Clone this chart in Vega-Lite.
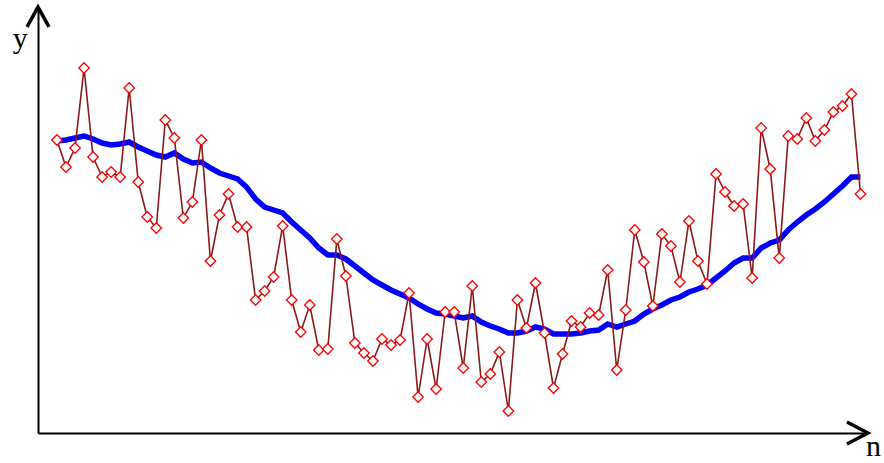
{
  "$schema": "https://vega.github.io/schema/vega-lite/v6.json",
  "width": 827,
  "height": 423,
  "autosize": {"type": "none"},
  "padding": {"left": 38, "top": 10, "right": 19, "bottom": 30},
  "background": "white",
  "config": {
    "view": {"stroke": null},
    "axis": {"title": null, "labels": false, "ticks": false, "grid": false, "domainColor": "black", "domainWidth": 2}
  },
  "datasets": {
    "series": [
      {"n":0,"y":293,"ma":292},{"n":1,"y":266,"ma":293},{"n":2,"y":285,"ma":295},{"n":3,"y":365,"ma":297},
      {"n":4,"y":276,"ma":294},{"n":5,"y":256,"ma":290},{"n":6,"y":261,"ma":288},{"n":7,"y":256,"ma":289},
      {"n":8,"y":345,"ma":291},{"n":9,"y":251,"ma":286},{"n":10,"y":216,"ma":282},{"n":11,"y":205,"ma":278},
      {"n":12,"y":313,"ma":276},{"n":13,"y":295,"ma":280},{"n":14,"y":215,"ma":274},{"n":15,"y":231,"ma":270},
      {"n":16,"y":293,"ma":271},{"n":17,"y":172,"ma":265},{"n":18,"y":218,"ma":260},{"n":19,"y":239,"ma":257},
      {"n":20,"y":206,"ma":254},{"n":21,"y":206,"ma":246},{"n":22,"y":133,"ma":234},{"n":23,"y":142,"ma":226},
      {"n":24,"y":156,"ma":223},{"n":25,"y":207,"ma":220},{"n":26,"y":133,"ma":211},{"n":27,"y":101,"ma":203},
      {"n":28,"y":128,"ma":195},{"n":29,"y":83,"ma":185},{"n":30,"y":84,"ma":178},{"n":31,"y":194,"ma":178},
      {"n":32,"y":157,"ma":174},{"n":33,"y":90,"ma":167},{"n":34,"y":80,"ma":160},{"n":35,"y":72,"ma":153},
      {"n":36,"y":94,"ma":148},{"n":37,"y":88,"ma":143},{"n":38,"y":93,"ma":139},{"n":39,"y":140,"ma":135},
      {"n":40,"y":36,"ma":129},{"n":41,"y":94,"ma":124},{"n":42,"y":44,"ma":120},{"n":43,"y":121,"ma":119},
      {"n":44,"y":121,"ma":117},{"n":45,"y":65,"ma":115},{"n":46,"y":147,"ma":117},{"n":47,"y":51,"ma":111},
      {"n":48,"y":59,"ma":107},{"n":49,"y":81,"ma":104},{"n":50,"y":22,"ma":100},{"n":51,"y":133,"ma":100},
      {"n":52,"y":105,"ma":102},{"n":53,"y":150,"ma":106},{"n":54,"y":100,"ma":104},{"n":55,"y":45,"ma":99},
      {"n":56,"y":79,"ma":99},{"n":57,"y":112,"ma":99},{"n":58,"y":106,"ma":100},{"n":59,"y":120,"ma":102},
      {"n":60,"y":118,"ma":103},{"n":61,"y":163,"ma":109},{"n":62,"y":63,"ma":106},{"n":63,"y":123,"ma":109},
      {"n":64,"y":203,"ma":112},{"n":65,"y":171,"ma":119},{"n":66,"y":127,"ma":124},{"n":67,"y":199,"ma":128},
      {"n":68,"y":187,"ma":133},{"n":69,"y":151,"ma":136},{"n":70,"y":212,"ma":141},{"n":71,"y":172,"ma":144},
      {"n":72,"y":149,"ma":148},{"n":73,"y":259,"ma":155},{"n":74,"y":241,"ma":162},{"n":75,"y":227,"ma":170},
      {"n":76,"y":229,"ma":175},{"n":77,"y":155,"ma":175},{"n":78,"y":305,"ma":185},{"n":79,"y":264,"ma":190},
      {"n":80,"y":175,"ma":193},{"n":81,"y":297,"ma":203},{"n":82,"y":294,"ma":211},{"n":83,"y":315,"ma":218},
      {"n":84,"y":292,"ma":224},{"n":85,"y":303,"ma":231},{"n":86,"y":321,"ma":239},{"n":87,"y":327,"ma":247},
      {"n":88,"y":339,"ma":256},{"n":89,"y":239,"ma":256}
    ]
  },
  "layer": [
    {
      "data": {"name": "series"},
      "mark": {"type": "line", "color": "#0000ff", "strokeWidth": 5.5, "interpolate": "linear"},
      "encoding": {
        "x": {"field": "n", "type": "quantitative", "scale": {"domain": [-2.1, 89.5], "nice": false, "zero": false}, "axis": {"orient": "bottom"}},
        "y": {"field": "ma", "type": "quantitative", "scale": {"domain": [0, 423], "nice": false, "zero": false}, "axis": {"orient": "left"}}
      }
    },
    {
      "data": {"name": "series"},
      "mark": {"type": "line", "color": "#8b1a1a", "strokeWidth": 1.6},
      "encoding": {
        "x": {"field": "n", "type": "quantitative"},
        "y": {"field": "y", "type": "quantitative"}
      }
    },
    {
      "data": {"name": "series"},
      "mark": {"type": "point", "shape": "diamond", "size": 110, "filled": true, "fill": "white", "stroke": "#ff0000", "strokeWidth": 1.3, "opacity": 1},
      "encoding": {
        "x": {"field": "n", "type": "quantitative"},
        "y": {"field": "y", "type": "quantitative"}
      }
    },
    {
      "data": {"values": [{"n": -2.1, "y": 416}]},
      "mark": {"type": "point", "shape": "M-1,0.9L0,-0.9L1,0.9", "size": 484, "filled": false, "stroke": "black", "strokeWidth": 3.5, "opacity": 1},
      "encoding": {
        "x": {"field": "n", "type": "quantitative"},
        "y": {"field": "y", "type": "quantitative"}
      }
    },
    {
      "data": {"values": [{"n": 88.6, "y": 0}]},
      "mark": {"type": "point", "shape": "M-0.9,-1L1,0L-0.9,1", "size": 484, "filled": false, "stroke": "black", "strokeWidth": 3.5, "opacity": 1},
      "encoding": {
        "x": {"field": "n", "type": "quantitative"},
        "y": {"field": "y", "type": "quantitative"}
      }
    },
    {
      "data": {"values": [{"n": -4.9, "y": 385, "label": "y"}, {"n": 89.6, "y": -23, "label": "n"}]},
      "mark": {"type": "text", "font": "Liberation Serif", "fontSize": 30, "align": "left", "baseline": "alphabetic", "color": "black"},
      "encoding": {
        "x": {"field": "n", "type": "quantitative"},
        "y": {"field": "y", "type": "quantitative"},
        "text": {"field": "label"}
      }
    }
  ]
}
